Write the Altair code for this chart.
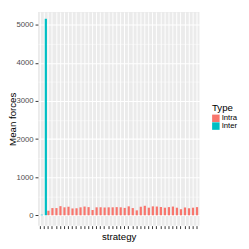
import altair as alt
import pandas as pd

intra_values = [120, 190, 190, 240, 210, 225, 180, 185, 210, 230, 215, 140, 210, 210,
                205, 210, 210, 215, 210, 195, 235, 190, 130, 225, 250, 200, 235, 230,
                215, 200, 215, 230, 200, 160, 205, 185, 200, 215]
inter_values = [15, 5160]
n_cat = len(inter_values) + len(intra_values)
strategies = [f"s{i+1:02d}" for i in range(n_cat)]

rows = []
for i, v in enumerate(inter_values):
    rows.append({"strategy": strategies[i], "Type": "Inter", "value": v})
for j, v in enumerate(intra_values):
    rows.append({"strategy": strategies[len(inter_values) + j], "Type": "Intra", "value": v})
df = pd.DataFrame(rows)

FONT = "Liberation Sans"

color = alt.Color("Type:N",
                  scale=alt.Scale(domain=["Intra", "Inter"], range=["#F8766D", "#00BFC4"]),
                  legend=alt.Legend(title="Type", titleFontSize=10, titleFontWeight="normal",
                                    titleColor="#000000", labelFontSize=8, labelColor="#000000",
                                    titleFont=FONT, labelFont=FONT,
                                    symbolType="square", symbolSize=60, symbolStrokeWidth=0,
                                    orient="none", legendX=180, legendY=94,
                                    rowPadding=0, titlePadding=2, labelOffset=2))

xenc = alt.X("strategy:N", sort=strategies, title="strategy",
             scale=alt.Scale(paddingInner=0, paddingOuter=0.1),
             axis=alt.Axis(labels=False, ticks=True, tickSize=3, tickColor="#333333",
                           domain=False, grid=True, gridColor="#FFFFFF", gridWidth=1,
                           titleFontSize=10, titleFontWeight="normal", titleColor="#000000",
                           titlePadding=3, titleFont=FONT))
yenc = alt.Y("value:Q", title="Mean forces",
             scale=alt.Scale(domain=[-272, 5338], nice=False, zero=False),
             axis=alt.Axis(values=list(range(0, 5500, 500)), format="d",
                           labelExpr="datum.value % 1000 == 0 ? datum.label : ''",
                           tickOpacity=alt.condition("datum.value % 1000 == 0", alt.value(1), alt.value(0)),
                           gridWidth=alt.condition("datum.value % 1000 == 0", alt.value(1.1), alt.value(0.5)),
                           gridColor="#FFFFFF", domain=False, tickSize=3, tickColor="#333333",
                           labelFontSize=8, labelColor="#4D4D4D", labelPadding=2,
                           titleFontSize=10, titleFontWeight="normal", titleColor="#000000",
                           titleX=-26, titleBaseline="middle", titleAngle=270,
                           titleFont=FONT, labelFont=FONT))

base = alt.Chart(df)
intra = base.transform_filter("datum.Type == 'Intra'").mark_bar(width={"band": 0.55}).encode(
    x=xenc, y=yenc, y2=alt.datum(0), color=color)
inter = base.transform_filter("datum.Type == 'Inter'").mark_bar(width={"band": 0.55}, xOffset=1.5).encode(
    x=xenc, y=yenc, y2=alt.datum(0), color=color)

chart = alt.layer(intra, inter).properties(
    width=167, height=221,
    autosize=alt.AutoSizeParams(type="none"),
    padding={"left": 31, "top": 0, "right": 43, "bottom": 20},
).configure(font=FONT).configure_view(fill="#EBEBEB", stroke=None)

chart.save("out.html", embed_options={"renderer": "svg", "actions": False})
